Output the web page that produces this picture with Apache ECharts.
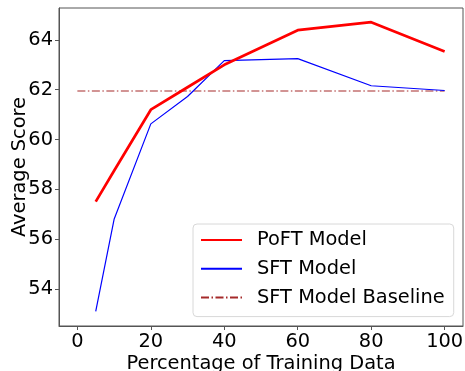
<!DOCTYPE html>
<html>
<head>
<meta charset="utf-8">
<script src="https://cdn.jsdelivr.net/npm/echarts@6/dist/echarts.min.js"></script>
<style>
html,body{margin:0;padding:0;background:#fff;}
#chart{width:465px;height:371px;}
</style>
</head>
<body>
<div id="chart"></div>
<script>
const poftX = [5, 10, 20, 30, 40, 60, 80, 100];
const poftY = [57.51, 58.75, 61.2, 62.1, 63.0, 64.39, 64.71, 63.53];
const sftX = [5, 10, 20, 30, 40, 60, 80, 100];
const sftY = [53.11, 56.8, 60.63, 61.73, 63.17, 63.25, 62.16, 61.97];
const baselineX = [0, 100];
const baselineY = [61.95, 61.95];
const xTicks = [0, 20, 40, 60, 80, 100];
const yTicks = [54, 56, 58, 60, 62, 64];
const seriesNames = ['PoFT Model', 'SFT Model', 'SFT Model Baseline'];

const zip = (xs, ys) => xs.map((x, i) => [x, ys[i]]);
const FONT = 'DejaVu Sans';
const chart = echarts.init(document.getElementById('chart'), null, {renderer: 'canvas'});
chart.setOption({
  animation: false,
  backgroundColor: '#fff',
  textStyle: {fontFamily: FONT},
  grid: {left: 59, right: 2, top: 8, bottom: 45, outerBoundsMode: 'none', containLabel: false,
         show: true, borderColor: '#555', borderWidth: 1, backgroundColor: 'transparent'},
  xAxis: {
    type: 'value', min: -5, max: 105,
    name: 'Percentage of Training Data', nameLocation: 'middle', nameGap: 28, nameMoveOverlap: false,
    nameTextStyle: {fontFamily: FONT, fontSize: 19.4, color: '#000'},
    axisLine: {show: true, onZero: false, lineStyle: {color: '#555', width: 1}},
    axisTick: {show: true, length: 4, lineStyle: {color: '#555'}, customValues: xTicks},
    axisLabel: {fontFamily: FONT, fontSize: 19.4, color: '#000', margin: 6, customValues: xTicks},
    splitLine: {show: false}
  },
  yAxis: {
    type: 'value', min: 52.52, max: 65.28,
    name: 'Average Score', nameLocation: 'middle', nameGap: 30, nameMoveOverlap: false,
    nameTextStyle: {fontFamily: FONT, fontSize: 19.4, color: '#000'},
    axisLine: {show: true, onZero: false, lineStyle: {color: '#555', width: 1}},
    axisTick: {show: true, length: 4, lineStyle: {color: '#555'}, customValues: yTicks},
    axisLabel: {fontFamily: FONT, fontSize: 19.4, color: '#000', margin: 6, customValues: yTicks},
    splitLine: {show: false}
  },
  legend: {
    orient: 'vertical', left: 193, top: 224,
    data: seriesNames,
    itemStyle: {opacity: 0},
    itemWidth: 41, itemHeight: 14, itemGap: 6.8,
    padding: [5, 9, 8, 7],
    backgroundColor: 'rgba(255,255,255,0.8)',
    borderColor: '#d8d8d8', borderWidth: 1, borderRadius: 4,
    textStyle: {fontFamily: FONT, fontSize: 19.4, color: '#000', lineHeight: 22, padding: [0, 0, 0, 10]}
  },
  series: [
    {name: seriesNames[0], type: 'line', data: zip(poftX, poftY), symbol: 'none', z: 3,
     lineStyle: {color: '#ff0000', width: 2.7}, itemStyle: {color: '#ff0000'}},
    {name: seriesNames[1], type: 'line', data: zip(sftX, sftY), symbol: 'none', z: 2,
     lineStyle: {color: '#0000ff', width: 1.2}, itemStyle: {color: '#0000ff'}},
    {name: seriesNames[2], type: 'line', data: zip(baselineX, baselineY), symbol: 'none', z: 1,
     lineStyle: {color: '#a52a2a', width: 1.1, type: [8, 2.5, 1.5, 2.5]}, itemStyle: {color: '#a52a2a'}}
  ]
});
</script>
</body>
</html>
